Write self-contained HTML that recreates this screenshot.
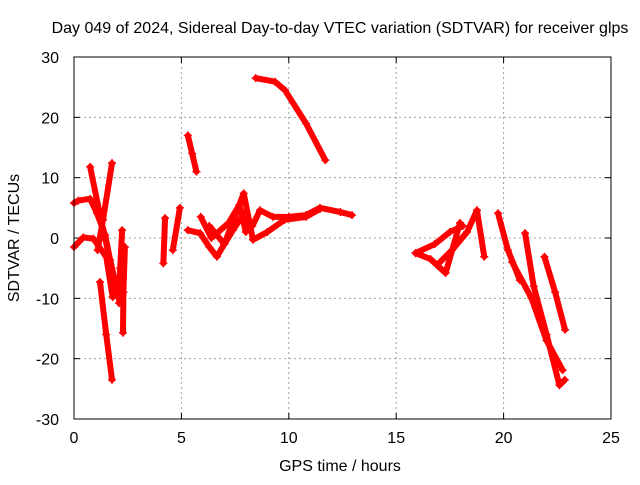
<!DOCTYPE html>
<html><head><meta charset="utf-8"><style>
body{margin:0;background:#fff}
svg text{font-family:"Liberation Sans",sans-serif;font-size:16px;fill:#000}
</style></head><body>
<svg id="c" width="640" height="480" xmlns="http://www.w3.org/2000/svg">
<text x="340" y="33" text-anchor="middle">Day 049 of 2024, Sidereal Day-to-day VTEC variation (SDTVAR) for receiver glps</text>
<text x="340" y="471" text-anchor="middle">GPS time / hours</text>
<text transform="translate(19,238) rotate(-90)" text-anchor="middle">SDTVAR / TECUs</text>
<g id="grid"></g><g id="ticks"></g><g id="marks"></g>
<rect x="74" y="57" width="537" height="362" fill="none" stroke="#000" stroke-width="1"/>
</svg>
<script>
const xTicks=[0,5,10,15,20,25];
const yTicks=[-30,-20,-10,0,10,20,30];
const trackA_h=[0,0.2,0.75,1.07,1.45,1.68,1.9,2.1];
const trackA_v=[5.8,6.2,6.5,4.1,0.5,-3.6,-7,-9.8];
const trackB_h=[0,0.43,0.9,1.5,1.8,2.15];
const trackB_v=[-1.5,0.1,-0.1,-3.1,-9.8,-9.2];
const trackC_h=[0.75,1.2,1.67,2.0];
const trackC_v=[11.8,4,-3.6,-8.6];
const trackD_h=[1.77,1.35,1.1];
const trackD_v=[12.4,3,-2];
const trackE_h=[2.24,2.15,2.1];
const trackE_v=[1.3,-5,-10.8];
const trackF_h=[2.37,2.3,2.28];
const trackF_v=[-1.5,-9,-15.7];
const trackG_h=[1.21,1.5,1.77];
const trackG_v=[-7.3,-16,-23.5];
const trackH_h=[4.16,4.24];
const trackH_v=[-4.2,3.3];
const trackI_h=[4.6,4.93];
const trackI_v=[-2,5];
const trackJ_h=[5.3,5.5,5.7];
const trackJ_v=[17,14,11];
const trackK_h=[5.3,5.87,6.3,6.65,7.0,7.4,7.9,8.3,8.66,9.26,10.0,10.8,11.45,12.4,12.94];
const trackK_v=[1.3,0.8,-1.5,-3.1,-1,1.3,4,2,4.6,3.5,3.5,3.8,5,4.3,3.8];
const trackL_h=[6.3,7.0,7.9,8.33,9.0,9.8,10.8,11.45];
const trackL_v=[2,-1,7.4,-0.3,1,3,3.5,4.8];
const trackL2_h=[5.9,6.4,7.2,7.7,8.0];
const trackL2_v=[3.5,0,2.5,5.5,1];
const trackM_h=[8.46,9.36,9.82,10.8,11.7];
const trackM_v=[26.5,25.9,24.5,19,12.9];
const trackN_h=[15.9,16.6,17.3,17.97];
const trackN_v=[-2.5,-3.5,-5.8,2.5];
const trackO_h=[15.9,16.8,17.5,18.1];
const trackO_v=[-2.5,-1,1,2];
const trackP_h=[16.9,17.6,18.3,18.76,19.1];
const trackP_v=[-4.5,-2,1,4.6,-3.1];
const trackQ_h=[19.74,20.2,20.76];
const trackQ_v=[4.1,-2,-7];
const trackR_h=[21.0,21.4,22.0,22.6,22.85];
const trackR_v=[0.8,-8,-16,-24.4,-23.5];
const trackS_h=[21.9,22.4,22.86];
const trackS_v=[-3.1,-9,-15.2];
const trackT_h=[20.4,21.3,22.0,22.75];
const trackT_v=[-4,-10,-17,-21.9];
const tracks=[[trackA_h,trackA_v],[trackB_h,trackB_v],[trackC_h,trackC_v],[trackD_h,trackD_v],[trackE_h,trackE_v],[trackF_h,trackF_v],[trackG_h,trackG_v],[trackH_h,trackH_v],[trackI_h,trackI_v],[trackJ_h,trackJ_v],[trackK_h,trackK_v],[trackL_h,trackL_v],[trackL2_h,trackL2_v],[trackM_h,trackM_v],[trackN_h,trackN_v],[trackO_h,trackO_v],[trackP_h,trackP_v],[trackQ_h,trackQ_v],[trackR_h,trackR_v],[trackS_h,trackS_v],[trackT_h,trackT_v]];
const X0=74,X1=611,Y0=419,Y1=57;
const sx=h=>X0+(h-0)/(25-0)*(X1-X0);
const sy=v=>Y0-(v+30)/60*(Y0-Y1);
const NS="http://www.w3.org/2000/svg";
function mk(t,a,p){const e=document.createElementNS(NS,t);for(const k in a)e.setAttribute(k,a[k]);p.appendChild(e);return e;}
const grid=document.getElementById('grid'),ticks=document.getElementById('ticks'),marks=document.getElementById('marks');
xTicks.forEach(t=>{const x=sx(t);
 if(t>0&&t<25){const g=mk('line',{x1:x,x2:x,y1:Y1,y2:Y0,stroke:'#a0a0a0','stroke-dasharray':'2,3'},grid);
 
 }
 mk('line',{x1:x,x2:x,y1:Y0,y2:Y0-6,stroke:'#000'},ticks);mk('line',{x1:x,x2:x,y1:Y1,y2:Y1+6,stroke:'#000'},ticks);
 const l=mk('text',{x:x,y:443,'text-anchor':'middle'},ticks);l.textContent=t;
 
 });
yTicks.forEach(t=>{const y=sy(t);
 if(t>-30&&t<30){const g=mk('line',{x1:X0,x2:X1,y1:y,y2:y,stroke:'#a0a0a0','stroke-dasharray':'2,3'},grid);
 
 }
 mk('line',{x1:X0,x2:X0+6,y1:y,y2:y,stroke:'#000'},ticks);mk('line',{x1:X1,x2:X1-6,y1:y,y2:y,stroke:'#000'},ticks);
 const l=mk('text',{x:X0-15,y:y+6,'text-anchor':'end'},ticks);l.textContent=t;
 
 });
tracks.forEach(([hs,vs])=>{
 const pts=hs.map((h,i)=>sx(h)+','+sy(vs[i])).join(' ');
 const p=mk('polyline',{points:pts,fill:'none',stroke:'#f00','stroke-width':6,'stroke-linejoin':'round','stroke-linecap':'round'},marks);
 
 
 hs.forEach((h,i)=>{const x=sx(h),y=sy(vs[i]);
  const m=mk('path',{d:`M${x-4},${y}h8M${x},${y-4}v8`,stroke:'#f00','stroke-width':1.5},marks);
  
  });
});
</script>
</body></html>
